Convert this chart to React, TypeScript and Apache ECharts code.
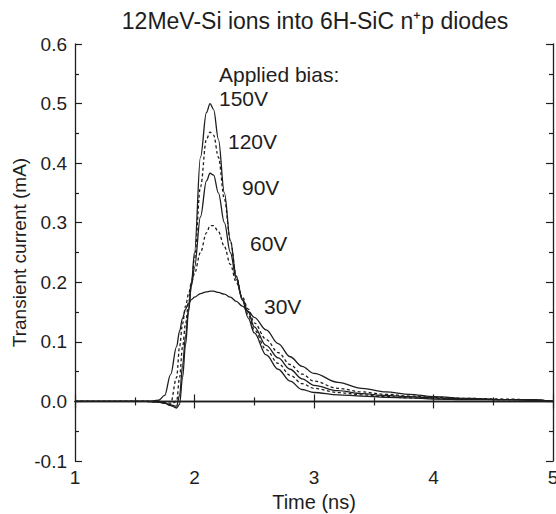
import React, { useEffect, useRef } from "react";
import * as echarts from "echarts";

const time = [1.0, 1.2, 1.4, 1.6, 1.7, 1.75, 1.8, 1.85, 1.875, 1.9, 1.925, 1.95, 1.975, 2.0, 2.05, 2.1, 2.13, 2.16, 2.2, 2.25, 2.3, 2.35, 2.4, 2.45, 2.5, 2.6, 2.7, 2.8, 2.9, 3.0, 3.2, 3.4, 3.6, 3.8, 4.0, 4.3, 4.6, 4.8, 5.0];

const v150 = [0, 0, 0, 0, -0.001, -0.003, -0.007, -0.011, -0.005, 0.04, 0.095, 0.15, 0.2, 0.25, 0.41, 0.485, 0.5, 0.49, 0.44, 0.35, 0.27, 0.21, 0.17, 0.14, 0.115, 0.078, 0.054, 0.034, 0.02, 0.015, 0.011, 0.009, 0.007, 0.006, 0.004, 0.003, 0.003, 0.003, 0.0];
const v120 = [0, 0, 0, 0, -0.001, -0.003, -0.005, 0.0, 0.04, 0.092, 0.13, 0.165, 0.2, 0.24, 0.36, 0.44, 0.452, 0.447, 0.41, 0.34, 0.27, 0.21, 0.172, 0.145, 0.12, 0.087, 0.064, 0.044, 0.03, 0.022, 0.015, 0.011, 0.008, 0.006, 0.005, 0.004, 0.003, 0.003, 0.0];
const v90 = [0, 0, 0, 0, -0.001, -0.003, -0.006, -0.008, 0.01, 0.06, 0.11, 0.155, 0.195, 0.225, 0.31, 0.37, 0.383, 0.38, 0.35, 0.3, 0.25, 0.205, 0.172, 0.15, 0.125, 0.094, 0.073, 0.054, 0.038, 0.027, 0.018, 0.013, 0.01, 0.008, 0.006, 0.004, 0.003, 0.003, 0.0];
const v60 = [0, 0, 0, 0, -0.001, -0.002, -0.003, 0.04, 0.092, 0.13, 0.16, 0.18, 0.2, 0.215, 0.25, 0.283, 0.295, 0.295, 0.285, 0.26, 0.23, 0.2, 0.175, 0.155, 0.132, 0.104, 0.082, 0.062, 0.046, 0.034, 0.022, 0.016, 0.012, 0.009, 0.007, 0.005, 0.004, 0.003, 0.0];
const v30 = [0, 0, 0, 0, 0.002, 0.01, 0.045, 0.092, 0.118, 0.14, 0.155, 0.165, 0.171, 0.175, 0.181, 0.184, 0.185, 0.185, 0.183, 0.18, 0.175, 0.168, 0.16, 0.151, 0.141, 0.12, 0.097, 0.075, 0.059, 0.047, 0.032, 0.022, 0.016, 0.012, 0.008, 0.005, 0.003, 0.002, 0.0];

const seriesDefs = [
  { name: "150V", values: v150, dashed: false },
  { name: "120V", values: v120, dashed: true },
  { name: "90V", values: v90, dashed: false },
  { name: "60V", values: v60, dashed: true },
  { name: "30V", values: v30, dashed: false },
];

const FONT = "Liberation Sans, Arial, sans-serif";
const INK = "#1e1e1e";

export default function App() {
  const ref = useRef<HTMLDivElement>(null);
  useEffect(() => {
    if (!ref.current) return;
    const chart = echarts.init(ref.current, undefined, { renderer: "svg" });
    const axisCommon = {
      axisLine: { lineStyle: { color: INK, width: 1.3 } },
      axisTick: { inside: true, length: 7, lineStyle: { color: INK, width: 1.2 } },
      minorTick: { show: true, splitNumber: 2, length: 4, lineStyle: { color: INK, width: 1.2 } },
      splitLine: { show: false },
      minorSplitLine: { show: false },
    };
    chart.setOption({
      animation: false,
      textStyle: { fontFamily: FONT },
      grid: { left: 75, right: 3, top: 44, bottom: 53, containLabel: false, outerBoundsMode: "none" },
      xAxis: [
        {
          type: "value", min: 1, max: 5, interval: 1, position: "bottom",
          ...axisCommon,
          axisLabel: { fontSize: 19, color: INK, margin: 7, fontFamily: FONT },
          name: "Time (ns)", nameLocation: "middle", nameGap: 31, nameMoveOverlap: false,
          nameTextStyle: { fontSize: 20, color: INK, fontFamily: FONT },
        },
        {
          type: "value", min: 1, max: 5, interval: 1, position: "top",
          ...axisCommon,
          axisLabel: { show: false },
        },
      ],
      yAxis: [
        {
          type: "value", min: -0.1, max: 0.6, interval: 0.1, position: "left",
          ...axisCommon,
          axisLabel: { fontSize: 19, color: INK, margin: 8, fontFamily: FONT, formatter: (v: number) => v.toFixed(1) },
          name: "Transient current (mA)", nameLocation: "middle", nameGap: 46, nameRotate: 90, nameMoveOverlap: false,
          nameTextStyle: { fontSize: 19, color: INK, fontFamily: FONT },
        },
        {
          type: "value", min: -0.1, max: 0.6, interval: 0.1, position: "right",
          ...axisCommon,
          axisLabel: { show: false },
        },
      ],
      series: seriesDefs.map((s) => ({
        name: s.name,
        type: "line",
        xAxisIndex: 0,
        yAxisIndex: 0,
        showSymbol: false,
        smooth: 0.35,
        smoothMonotone: "x",
        data: time.map((t, i) => [t, s.values[i]]),
        lineStyle: { color: INK, width: 1.3, type: s.dashed ? [3, 2.5] : "solid" },
      })),
      graphic: [
        { type: "text", x: 315, y: 21, style: { text: "12MeV-Si ions into 6H-SiC n\u207Ap diodes", font: `23px ${FONT}`, fill: INK, textAlign: "center", textVerticalAlign: "middle" } },
        { type: "text", x: 219, y: 74, style: { text: "Applied bias:", font: `21px ${FONT}`, fill: INK, textVerticalAlign: "middle" } },
        { type: "text", x: 219, y: 98, style: { text: "150V", font: `21px ${FONT}`, fill: INK, textVerticalAlign: "middle" } },
        { type: "text", x: 228, y: 141, style: { text: "120V", font: `21px ${FONT}`, fill: INK, textVerticalAlign: "middle" } },
        { type: "text", x: 242, y: 187, style: { text: "90V", font: `21px ${FONT}`, fill: INK, textVerticalAlign: "middle" } },
        { type: "text", x: 250, y: 243, style: { text: "60V", font: `21px ${FONT}`, fill: INK, textVerticalAlign: "middle" } },
        { type: "text", x: 264, y: 306, style: { text: "30V", font: `21px ${FONT}`, fill: INK, textVerticalAlign: "middle" } },
      ],
    });
    return () => chart.dispose();
  }, []);
  return <div ref={ref} style={{ position: "absolute", left: 0, top: 0, width: 556, height: 514, background: "#fff" }} />;
}
